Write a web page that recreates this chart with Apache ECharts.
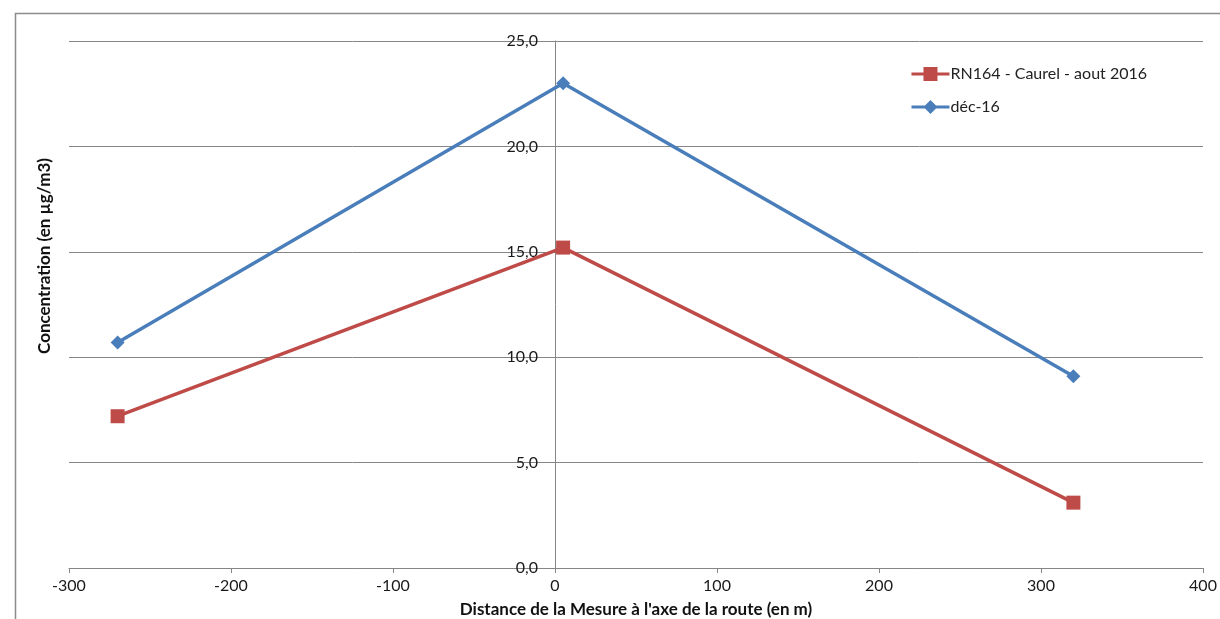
<!DOCTYPE html>
<html><head><meta charset="utf-8">
<script src="https://cdn.jsdelivr.net/npm/echarts@6/dist/echarts.min.js"></script>
<style>html,body{margin:0;padding:0;background:#fff}#c{width:1220px;height:619px}</style>
</head><body><div id="c"></div>
<script>
const distances = [-270, 5, 320];
const aout2016 = [7.2, 15.2, 3.1];
const dec16 = [10.7, 23.0, 9.1];
const seriesNames = ['RN164 - Caurel - aout 2016', 'déc-16'];
const xTitle = "Distance de la Mesure à l'axe de la route (en m)";
const yTitle = 'Concentration (en µg/m3)';

const font = 'Lato, "Open Sans", sans-serif';
const chart = echarts.init(document.getElementById('c'));
chart.setOption({
  animation: false,
  grid: {left: 69, right: 17, top: 41, bottom: 51, containLabel: false},
  legend: {
    right: 68, top: 61, orient: 'vertical', itemGap: 17,
    itemWidth: 38, itemHeight: 14,
    textStyle: {fontFamily: font, fontSize: 16, color: '#222', padding: [0,0,0,-4]},
    data: [
      {name: seriesNames[0], icon: 'path://M0,5.5 L38,5.5 L38,8.5 L0,8.5 Z M12,0 L26,0 L26,14 L12,14 Z'},
      {name: seriesNames[1], icon: 'path://M0,5.5 L38,5.5 L38,8.5 L0,8.5 Z M19,0 L26,7 L19,14 L12,7 Z'}
    ]
  },
  xAxis: {
    type: 'value', min: -300, max: 400, interval: 100,
    axisLine: {onZero: true, lineStyle: {color: '#868686', width: 1}},
    axisTick: {show: true, length: 5, lineStyle: {color: '#868686'}},
    axisLabel: {fontFamily: font, fontSize: 16, color: '#1a1a1a', margin: 10},
    splitLine: {show: false}
  },
  yAxis: {
    type: 'value', min: 0, max: 25, interval: 5, offset: -486,
    axisLine: {show: true, onZero: false, lineStyle: {color: '#868686', width: 1}},
    axisTick: {show: false},
    axisLabel: {fontFamily: font, fontSize: 16, color: '#1a1a1a', margin: 17,
      formatter: v => v.toFixed(1).replace('.', ',')},
    splitLine: {show: true, lineStyle: {color: '#868686', width: 1}}
  },
  graphic: [
    {type: 'rect', shape: {x: 15.5, y: 13.5, width: 1400, height: 800}, style: {fill: 'none', stroke: '#8c8c8c', lineWidth: 1.5}, silent: true},
    {type: 'text', x: 636, y: 610, style: {text: xTitle, fontFamily: font, fontSize: 17, fontWeight: 'bold', fill: '#111', align: 'center', verticalAlign: 'middle'}},
    {type: 'text', x: 45, y: 256, rotation: Math.PI/2, style: {text: yTitle, fontFamily: font, fontSize: 17, fontWeight: 'bold', fill: '#111', align: 'center', verticalAlign: 'middle'}}
  ],
  series: [
    {name: seriesNames[0], type: 'line', data: distances.map((d,i)=>[d, aout2016[i]]),
     symbol: 'rect', symbolSize: 14, color: '#BE4B48',
     lineStyle: {width: 3.5, color: '#BE4B48'}, itemStyle: {color: '#BE4B48'}},
    {name: seriesNames[1], type: 'line', data: distances.map((d,i)=>[d, dec16[i]]),
     symbol: 'diamond', symbolSize: 14, color: '#4A7EBB',
     lineStyle: {width: 3.5, color: '#4A7EBB'}, itemStyle: {color: '#4A7EBB'}}
  ]
});
</script></body></html>
